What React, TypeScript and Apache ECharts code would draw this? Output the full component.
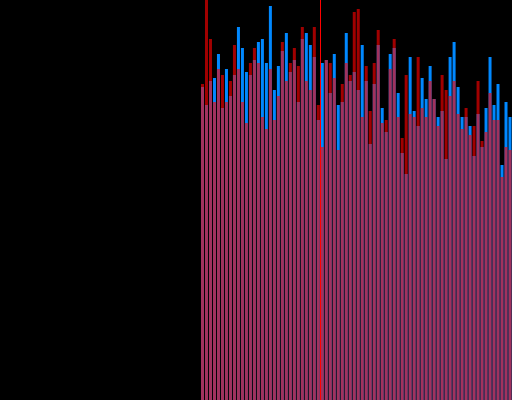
import React, { useEffect, useRef } from "react";
import * as echarts from "echarts";

const blueValues = [
  78.25, 73.75, 79.75, 80.5, 86.5, 73, 82.75, 76, 81.25, 93.25, 88, 82, 81.25, 85, 89.5, 90.25,
  84.25, 98.5, 77.5, 83.5, 87.25, 91.75, 82, 85, 74.5, 90.25, 91.75, 88.75, 85.75, 70, 84.25, 85,
  76.75, 86.5, 73.75, 74.5, 91.75, 79.75, 82, 77.5, 88.75, 79.75, 64, 79, 88.75, 73, 67, 86.5,
  88, 76.75, 61.75, 56.5, 85.75, 72.25, 68.5, 80.5, 75.25, 83.5, 75.25, 70.75, 72.25, 60.25, 85.75, 89.5,
  78.25, 70.75, 70.75, 68.5, 61, 71.5, 63.25, 73, 85.75, 73.75, 79, 58.75, 74.5, 70.75,
];

const redValues = [
  79, 100, 90.25, 74.5, 82.75, 81.25, 74.5, 79.75, 88.75, 82.75, 74.5, 69.25, 84.25, 88, 84.25, 70.75,
  67.75, 82.75, 70, 76, 89.5, 79.75, 84.25, 88, 83.5, 93.25, 79.75, 77.5, 93.25, 73.75, 63.25, 85,
  84.25, 80.5, 62.5, 79, 84.25, 81.25, 97, 97.75, 70.75, 83.5, 72.25, 84.25, 92.5, 69.25, 70, 82.75,
  90.25, 70.75, 65.5, 81.25, 71.5, 70.75, 85.75, 73, 70.75, 79.75, 75.25, 68.5, 81.25, 77.5, 76, 79.75,
  71.5, 67.75, 73, 66.25, 68.5, 79.75, 64.75, 67, 76.75, 70, 70, 55.75, 63.25, 62.5,
];

const markerPosition = 29.5;

export default function App() {
  const ref = useRef<HTMLDivElement>(null);

  useEffect(() => {
    if (!ref.current) return;
    const chart = echarts.init(ref.current, undefined, { renderer: "svg" });
    const n = blueValues.length;
    chart.setOption({
      animation: false,
      backgroundColor: "#000000",
      grid: { left: 200.5, top: 0, width: n * 4, bottom: 0, containLabel: false },
      xAxis: {
        type: "value",
        min: -0.5,
        max: n - 0.5,
        show: false,
        splitLine: { show: false },
      },
      yAxis: {
        type: "value",
        min: 0,
        max: 100,
        show: false,
        splitLine: { show: false },
      },
      series: [
        {
          type: "bar",
          name: "blue",
          data: blueValues.map((v, i) => [i, v]),
          barWidth: 3,
          barGap: "-100%",
          itemStyle: { color: "#0088ff" },
          markLine: {
            symbol: "none",
            silent: true,
            label: { show: false },
            lineStyle: { color: "#ff0000", width: 1, type: "solid", opacity: 1 },
            data: [{ xAxis: markerPosition }],
          },
        },
        {
          type: "bar",
          name: "red",
          data: redValues.map((v, i) => [i, v]),
          barWidth: 3,
          barGap: "-100%",
          itemStyle: { color: "#ff0000", opacity: 0.63 },
        },
      ],
    });
    return () => chart.dispose();
  }, []);

  return (
    <div
      ref={ref}
      style={{ position: "absolute", left: 0, top: 0, width: 512, height: 400 }}
    />
  );
}
